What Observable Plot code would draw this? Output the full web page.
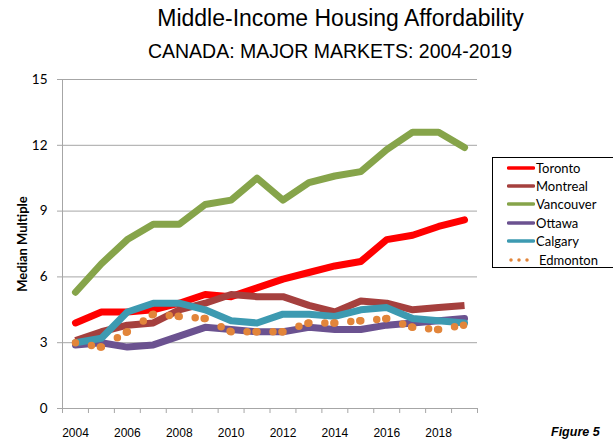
<!DOCTYPE html>
<html><head><meta charset="utf-8">
<script src="https://cdn.jsdelivr.net/npm/d3@7"></script>
<script src="https://cdn.jsdelivr.net/npm/@observablehq/plot@0.6"></script>
<style>
html,body{margin:0;padding:0;background:#fff;}
#wrap{position:relative;width:613px;height:441px;overflow:hidden;}
#chart{position:absolute;left:0;top:0;}
.t{position:absolute;white-space:nowrap;color:#000;}
#title{left:0;width:681px;text-align:center;top:5px;font:23px "Liberation Sans",Arial,sans-serif;}
#sub{left:0;width:660px;text-align:center;top:40px;font:19.5px "Liberation Sans",Arial,sans-serif;}
#fig{left:551px;top:425px;font:bold italic 12.5px "Liberation Sans",Arial,sans-serif;}
#legend{position:absolute;left:492px;top:157px;width:130px;height:111px;border:1px solid #000;box-sizing:border-box;background:#fff;}
.row{position:absolute;left:14px;height:18px;display:flex;align-items:center;font:13px Lato,"Open Sans",sans-serif;}
.row svg{margin-right:1px;}
</style></head>
<body><div id="wrap">
<div id="chart"></div>
<div id="title" class="t">Middle-Income Housing Affordability</div>
<div id="sub" class="t">CANADA: MAJOR MARKETS: 2004-2019</div>
<div id="legend"></div>
<div id="fig" class="t">Figure 5</div>
</div>
<script>
const years = [2004,2005,2006,2007,2008,2009,2010,2011,2012,2013,2014,2015,2016,2017,2018,2019];
const toronto   = [3.9,4.4,4.4,4.5,4.8,5.2,5.1,5.5,5.9,6.2,6.5,6.7,7.7,7.9,8.3,8.6];
const montreal  = [3.1,3.5,3.8,3.9,4.5,4.8,5.2,5.1,5.1,4.7,4.4,4.9,4.8,4.5,4.6,4.7];
const vancouver = [5.3,6.6,7.7,8.4,8.4,9.3,9.5,10.5,9.5,10.3,10.6,10.8,11.8,12.6,12.6,11.9];
const ottawa    = [2.9,3.0,2.8,2.9,3.3,3.7,3.6,3.5,3.5,3.7,3.6,3.6,3.8,3.9,4.0,4.1];
const calgary   = [3.0,3.2,4.4,4.8,4.8,4.5,4.0,3.9,4.3,4.3,4.2,4.5,4.6,4.1,4.0,3.9];
const edmonton  = [3.0,2.8,3.5,4.3,4.2,4.1,3.5,3.5,3.5,3.9,3.9,4.0,4.1,3.7,3.6,3.8];
const seriesNames = ["Toronto","Montreal","Vancouver","Ottawa","Calgary","Edmonton"];
const seriesColors = ["#ff0000","#a5403e","#86a44a","#6b5290","#3d9ab1","#e2853a"];
const yTicks = [0,3,6,9,12,15];
const yLabel = "Median Multiple";

const solid = [toronto, montreal, vancouver, ottawa, calgary];
const gridColor = "#a6a6a6";
const boundaries = years.map(y => y - 0.5).concat([years[years.length-1] + 0.5]);
const labelYears = years.filter(y => y % 2 === 0);

const lineMarks = solid.map((vals, k) => Plot.line(years.map((y,i)=>({year:y, v:vals[i]})), {
  x: "year", y: "v", stroke: seriesColors[k], strokeWidth: 7,
  strokeLinecap: k === 1 ? "butt" : "round", strokeLinejoin: "round"
}));
const idx = d3.range(years.length - 1);

const plot = Plot.plot({
  width: 613, height: 441,
  marginLeft: 62, marginRight: 136, marginTop: 79, marginBottom: 33,
  style: {fontFamily: "Lato, sans-serif", fontSize: "13px", color: "#000", background: "transparent", overflow: "visible"},
  x: {type: "linear", domain: [boundaries[0], boundaries[boundaries.length-1]]},
  y: {domain: [0, 15]},
  marks: [
    Plot.ruleY(yTicks.slice(1), {stroke: gridColor, strokeWidth: 1}),
    Plot.ruleY([0], {stroke: gridColor, strokeWidth: 1}),
    Plot.ruleX([boundaries[0]], {stroke: gridColor, strokeWidth: 1}),
    Plot.axisY({ticks: yTicks, tickSize: 5, tickPadding: 10, stroke: gridColor, label: null, fontSize: 13.5}),
    Plot.axisX({ticks: boundaries, tickSize: 5, tickFormat: () => "", stroke: gridColor, label: null}),
    Plot.axisX({ticks: labelYears, tickSize: 0, tickPadding: 20, tickFormat: d => String(d), label: null,
      fontFamily: "Liberation Sans, Arial, sans-serif", fontSize: 12}),
    Plot.text([yLabel], {frameAnchor: "left", textAnchor: "middle", rotate: -90, dx: -40, fontWeight: "bold", fontSize: 13, fill: "#000"}),
    ...lineMarks,
    Plot.link(idx, {
      x1: i => years[i], y1: i => edmonton[i], x2: i => years[i+1], y2: i => edmonton[i+1],
      stroke: seriesColors[5], strokeWidth: 7.5, strokeLinecap: "round",
      strokeDasharray: "0 16 0 9 0 100", className: "edm"
    })
  ]
});
document.getElementById("chart").appendChild(plot);
plot.querySelectorAll(".edm path, g.edm path").forEach(p => p.setAttribute("pathLength", "26"));

// legend
const lg = document.getElementById("legend");
const rowTops = [1, 19, 37, 56, 74, 93];
seriesNames.forEach((name, k) => {
  const row = document.createElement("div");
  row.className = "row";
  row.style.top = rowTops[k] + "px";
  let sw;
  if (k < 5) {
    sw = `<svg width="28" height="10"><line x1="1.5" y1="5" x2="26.5" y2="5" stroke="${seriesColors[k]}" stroke-width="3.5" stroke-linecap="round"/></svg>`;
  } else {
    sw = `<svg width="28" height="10"><line x1="4" y1="5" x2="24" y2="5" stroke="${seriesColors[k]}" stroke-width="3.5" stroke-linecap="round" stroke-dasharray="0 8"/></svg>`;
  }
  row.innerHTML = sw + `<span>${name}</span>`;
  if (k === 5) row.querySelector("span").style.marginLeft = "3px";
  lg.appendChild(row);
});
</script>
</body></html>
